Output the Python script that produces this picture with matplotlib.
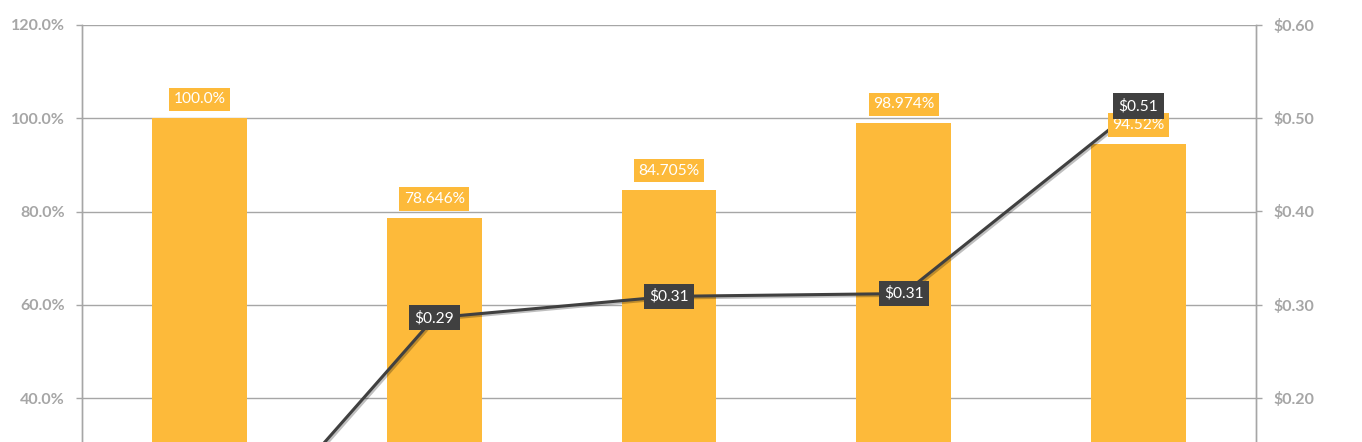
import matplotlib
matplotlib.use("Agg")
import matplotlib.pyplot as plt
import matplotlib.patheffects as pe
from matplotlib.ticker import FuncFormatter, FixedLocator

# ---- data ----
categories = ["A", "B", "C", "D", "E"]
pct_values = [100.0, 78.646, 84.705, 98.974, 94.52]
pct_labels = ["100.0%", "78.646%", "84.705%", "98.974%", "94.52%"]
price_values = [0.00, 0.286, 0.309, 0.312, 0.513]
pct_ticks = [40, 60, 80, 100, 120]
price_ticks = [0.2, 0.3, 0.4, 0.5, 0.6]

BAR_COLOR = "#FDBA3A"
LINE_COLOR = "#404040"
TICK_COLOR = "#A6A6A6"
GRID_COLOR = "#A6A6A6"
FONT = ["Lato", "DejaVu Sans"]

plt.rcParams["font.family"] = FONT

W, H = 1362, 442
fig = plt.figure(figsize=(W / 100, H / 100), dpi=100)
left_px, right_px, top_px = 82, 1256, 25
px_per_pct = 4.6625
ax = fig.add_axes([left_px / W, 0.0, (right_px - left_px) / W, 1 - top_px / H])
ax2 = ax.twinx()

y_bottom = 120 - (H - top_px) / px_per_pct

x = list(range(len(categories)))
ax.bar(x, pct_values, width=0.404, color=BAR_COLOR, zorder=2)
ax.set_xlim(-0.5, len(categories) - 0.5)
ax.set_ylim(y_bottom, 120)
ax2.set_ylim(y_bottom / 200, 0.6)

ax.set_axisbelow(True)
ax.yaxis.set_major_locator(FixedLocator(pct_ticks))
ax.yaxis.set_major_formatter(FuncFormatter(lambda v, p: f"{v:.1f}%"))
ax.grid(axis="y", color=GRID_COLOR, linewidth=1.0)
ax2.yaxis.set_major_locator(FixedLocator(price_ticks))
ax2.yaxis.set_major_formatter(FuncFormatter(lambda v, p: f"${v:.2f}"))

for a in (ax, ax2):
    for s in a.spines.values():
        s.set_color(GRID_COLOR)
        s.set_linewidth(1.0)
    a.spines["bottom"].set_visible(False)
    a.spines["top"].set_visible(False)
    a.tick_params(axis="y", colors=GRID_COLOR, length=4, width=1.0, pad=8.5,
                  labelsize=11.5, labelcolor=TICK_COLOR)
    a.tick_params(axis="x", bottom=False, labelbottom=False)
for lab in ax.get_yticklabels() + ax2.get_yticklabels():
    lab.set_fontweight("bold")

ax2.patch.set_visible(False)

ax2.plot(x, price_values, color=LINE_COLOR, linewidth=2.2, zorder=3,
         solid_capstyle="round",
         path_effects=[pe.SimpleLineShadow(offset=(1.2, -1.2), alpha=0.25, shadow_color="black"),
                       pe.Normal()])

# bar labels (drawn above the line)
for xi, v, lab in zip(x, pct_values, pct_labels):
    ax2.annotate(lab, xy=(xi, v), xycoords=ax.transData, xytext=(0, 13.5),
                 textcoords="offset points", ha="center", va="center",
                 fontsize=11.2, color="white", zorder=5, annotation_clip=False,
                 bbox=dict(boxstyle="square,pad=0.3", fc=BAR_COLOR, ec="none"))

# line labels (only those whose point lies inside the visible area)
for xi, v in zip(x, price_values):
    if v * 200 < y_bottom:
        continue
    ax2.annotate(f"${v:.2f}", xy=(xi, v), xycoords="data", xytext=(0, 0),
                 textcoords="offset points", ha="center", va="center",
                 fontsize=11.2, color="white", zorder=6,
                 bbox=dict(boxstyle="square,pad=0.35", fc=LINE_COLOR, ec="none"))

fig.savefig("out.png", dpi=100)
